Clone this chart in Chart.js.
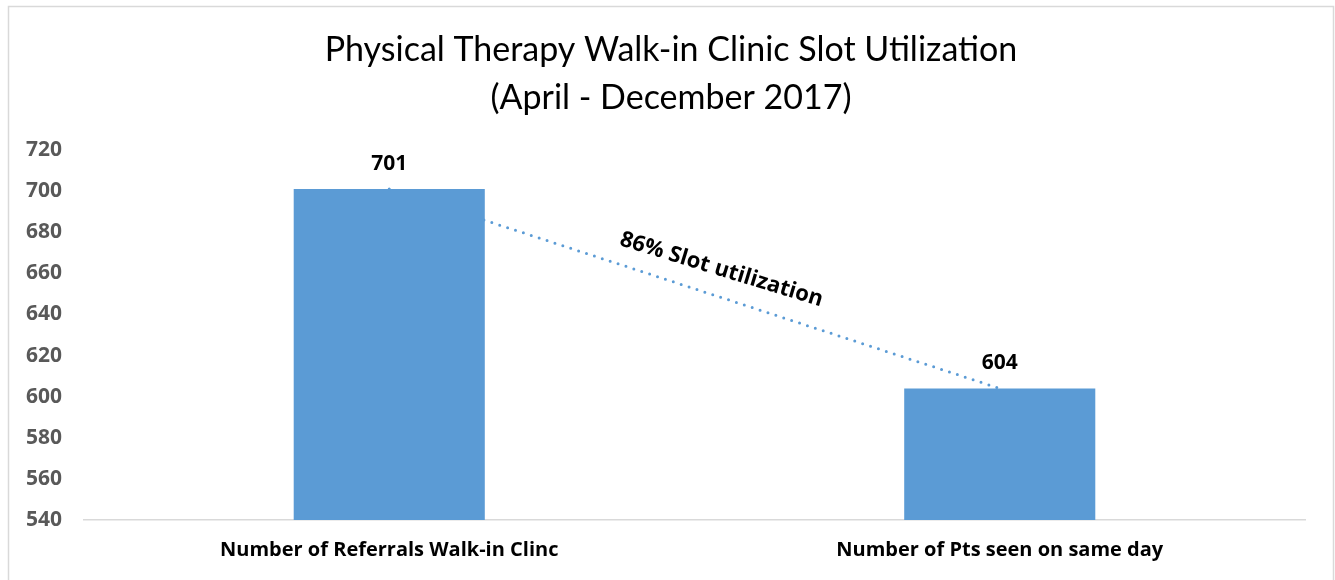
<!DOCTYPE html>
<html>
<head>
<meta charset="utf-8">
<title>Physical Therapy Walk-in Clinic Slot Utilization</title>
<script src="https://cdn.jsdelivr.net/npm/chart.js@4.4.1/dist/chart.umd.min.js"></script>
<style>
  html, body { margin: 0; padding: 0; background: #fff; overflow: hidden; }
  #wrap { position: relative; width: 1335px; height: 580px; }
</style>
</head>
<body>
<div id="wrap"><canvas id="slotChart"></canvas></div>
<script>
// Data
const categories = ['Number of Referrals Walk-in Clinc', 'Number of Pts seen on same day'];
const slotCounts = [701, 604];
const yTicks = [540, 560, 580, 600, 620, 640, 660, 680, 700, 720];
const titleLines = ['Physical Therapy Walk-in Clinic Slot Utilization', '(April - December 2017)'];
const trendNote = '86% Slot utilization';

const TITLE_FONT = "Lato, 'Open Sans', sans-serif";
const FONT = "'Open Sans', 'Noto Sans', sans-serif";
const BLUE = '#5b9bd5';

// light grey frame round the whole chart + the two title lines
const chartFrame = {
    id: 'chartFrame',
    beforeDraw(chart) {
        const ctx = chart.ctx;
        ctx.save();
        ctx.fillStyle = '#fff';
        ctx.fillRect(0, 0, chart.width, chart.height);
        ctx.strokeStyle = '#d9d9d9';
        ctx.lineWidth = 1.5;
        ctx.strokeRect(8.5, 6.5, chart.width - 10, chart.height + 20);

        // title is centred on the frame, not on the plot
        const cx = (8.5 + chart.width - 1.5) / 2;
        ctx.fillStyle = '#000';
        ctx.font = `34px ${TITLE_FONT}`;
        ctx.textAlign = 'center';
        ctx.textBaseline = 'middle';
        titleLines.forEach((line, i) => ctx.fillText(line, cx, 50 + i * 48));
        ctx.restore();
    }
};

// value labels above each bar
const barValues = {
    id: 'barValues',
    afterDatasetsDraw(chart) {
        const ctx = chart.ctx;
        const meta = chart.getDatasetMeta(0);
        ctx.save();
        ctx.font = `bold 21px ${FONT}`;
        ctx.fillStyle = '#000';
        ctx.textAlign = 'center';
        ctx.textBaseline = 'middle';
        meta.data.forEach((bar, i) => {
            ctx.fillText(slotCounts[i], bar.x, bar.y - 25);
        });
        ctx.restore();
    }
};

// rotated note along the dotted line
const lineNote = {
    id: 'lineNote',
    afterDatasetsDraw(chart) {
        const pts = chart.getDatasetMeta(1).data;
        if (pts.length < 2) return;
        const a = pts[0], b = pts[1];
        const angle = Math.atan2(b.y - a.y, b.x - a.x) - 0.02;
        const cx = (a.x + b.x) / 2 + 27;
        const cy = (a.y + b.y) / 2 - 19;
        const ctx = chart.ctx;
        ctx.save();
        ctx.translate(cx, cy);
        ctx.rotate(angle);
        ctx.font = `bold 22px ${FONT}`;
        ctx.fillStyle = '#000';
        ctx.textAlign = 'center';
        ctx.textBaseline = 'middle';
        ctx.fillText(trendNote, 0, 0);
        ctx.restore();
    }
};

new Chart(document.getElementById('slotChart'), {
    data: {
        labels: categories,
        datasets: [{
            type: 'bar',
            data: slotCounts,
            backgroundColor: BLUE,
            borderWidth: 0,
            categoryPercentage: 1,
            barPercentage: 0.313,
            order: 1
        }, {
            type: 'line',
            data: slotCounts,
            borderColor: BLUE,
            borderWidth: 3,
            borderDash: [0, 8.3],
            borderCapStyle: 'round',
            pointRadius: 0,
            fill: false,
            order: 2
        }]
    },
    options: {
        responsive: true,
        maintainAspectRatio: false,
        animation: false,
        layout: { padding: { left: 0, right: 30, top: 150, bottom: 0 } },
        plugins: {
            legend: { display: false },
            tooltip: { enabled: false },
            title: { display: false }
        },
        scales: {
            x: {
                grid: { display: false, drawTicks: false },
                border: { display: true, color: '#d9d9d9', width: 1.5 },
                ticks: {
                    color: '#000',
                    padding: 18,
                    maxRotation: 0,
                    font: { family: FONT, size: 20, weight: 'bold' }
                },
                afterFit: s => { s.height = 60; }
            },
            y: {
                min: 540,
                max: 720,
                grid: { display: false, drawTicks: false },
                border: { display: false },
                afterBuildTicks: s => { s.ticks = yTicks.map(v => ({ value: v })); },
                ticks: {
                    color: '#595959',
                    padding: 22,
                    font: { family: FONT, size: 21, weight: 'bold' }
                },
                afterFit: s => { s.width = 84; }
            }
        }
    },
    plugins: [chartFrame, barValues, lineNote]
});
</script>
</body>
</html>
